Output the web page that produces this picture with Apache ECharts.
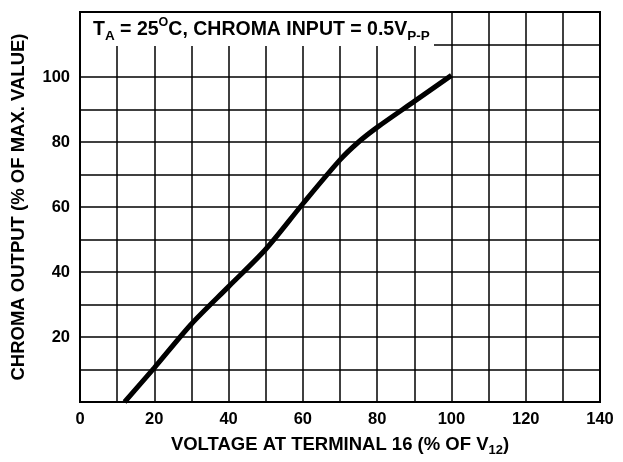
<!DOCTYPE html>
<html>
<head>
<meta charset="utf-8">
<script src="https://cdn.jsdelivr.net/npm/echarts@6/dist/echarts.min.js"></script>
<style>
html,body{margin:0;padding:0;background:#fff;}
#c{width:623px;height:462px;}
</style>
</head>
<body>
<div id="c"></div>
<script>
// Data
var voltagePct = [12, 20, 30, 40, 50, 60, 70, 75, 80, 90, 100];
var chromaPct  = [0, 10.5, 24, 35.5, 47, 61, 74.5, 80, 84.5, 92.5, 100.5];
var xTickLabels = ['0', '20', '40', '60', '80', '100', '120', '140'];
var yTickLabels = ['20', '40', '60', '80', '100'];

var FONT = '"Liberation Sans", Arial, sans-serif';
var chart = echarts.init(document.getElementById('c'), null, {renderer: 'canvas'});
var pts = voltagePct.map(function (v, i) { return [v, chromaPct[i]]; });

chart.setOption({
  animation: false,
  backgroundColor: '#fff',
  grid: {left: 80, right: 23, top: 12, bottom: 60, show: false},
  xAxis: {
    type: 'value', min: 0, max: 140, interval: 10,
    axisLine: {show: false},
    axisTick: {show: false},
    splitLine: {show: true, lineStyle: {color: '#000', width: 1.5}},
    axisLabel: {
      margin: 9, color: '#000', fontFamily: FONT, fontWeight: 'bold', fontSize: 16.5,
      formatter: function (v) { var s = String(v); return xTickLabels.indexOf(s) >= 0 && v % 20 === 0 ? s : ''; }
    },
    name: 'VOLTAGE AT TERMINAL 16 (% OF V{sub|12})',
    nameLocation: 'middle', nameGap: 28,
    nameTextStyle: {
      color: '#000', fontFamily: FONT, fontWeight: 'bold', fontSize: 18.5, lineHeight: 24,
      rich: {sub: {fontFamily: FONT, fontWeight: 'bold', fontSize: 13, verticalAlign: 'bottom', lineHeight: 24, color: '#000'}}
    }
  },
  yAxis: {
    type: 'value', min: 0, max: 120, interval: 10,
    axisLine: {show: false},
    axisTick: {show: false},
    splitLine: {show: true, lineStyle: {color: '#000', width: 1.5}},
    axisLabel: {
      margin: 10, color: '#000', fontFamily: FONT, fontWeight: 'bold', fontSize: 16.5,
      formatter: function (v) { var s = String(v); return yTickLabels.indexOf(s) >= 0 ? s : ''; }
    },
    name: 'CHROMA OUTPUT (% OF MAX. VALUE)',
    nameLocation: 'middle', nameGap: 52,
    nameTextStyle: {color: '#000', fontFamily: FONT, fontWeight: 'bold', fontSize: 18.5}
  },
  graphic: [
    {
      type: 'rect', z: 50,
      shape: {x: 80, y: 12, width: 354, height: 34},
      style: {fill: '#fff', stroke: null}
    },
    {
      type: 'text', z: 51, left: 93, top: 16,
      style: {
        text: '{m|T}{s|A}{m| = 25}{p|O}{m|C, CHROMA INPUT = 0.5V}{s|P-P}',
        rich: {
          m: {fontFamily: FONT, fontWeight: 'bold', fontSize: 19.5, fill: '#000', lineHeight: 27, verticalAlign: 'middle'},
          s: {fontFamily: FONT, fontWeight: 'bold', fontSize: 13.5, fill: '#000', lineHeight: 27, verticalAlign: 'bottom'},
          p: {fontFamily: FONT, fontWeight: 'bold', fontSize: 12.5, fill: '#000', lineHeight: 27, verticalAlign: 'top'}
        }
      }
    },
    {
      type: 'rect', z: 60,
      shape: {x: 80, y: 12, width: 520, height: 390},
      style: {fill: null, stroke: '#000', lineWidth: 2}
    }
  ],
  series: [{
    type: 'line', data: pts, smooth: 0.3, symbol: 'none', z: 10,
    lineStyle: {color: '#000', width: 5, cap: 'butt'}
  }]
});
</script>
</body>
</html>
